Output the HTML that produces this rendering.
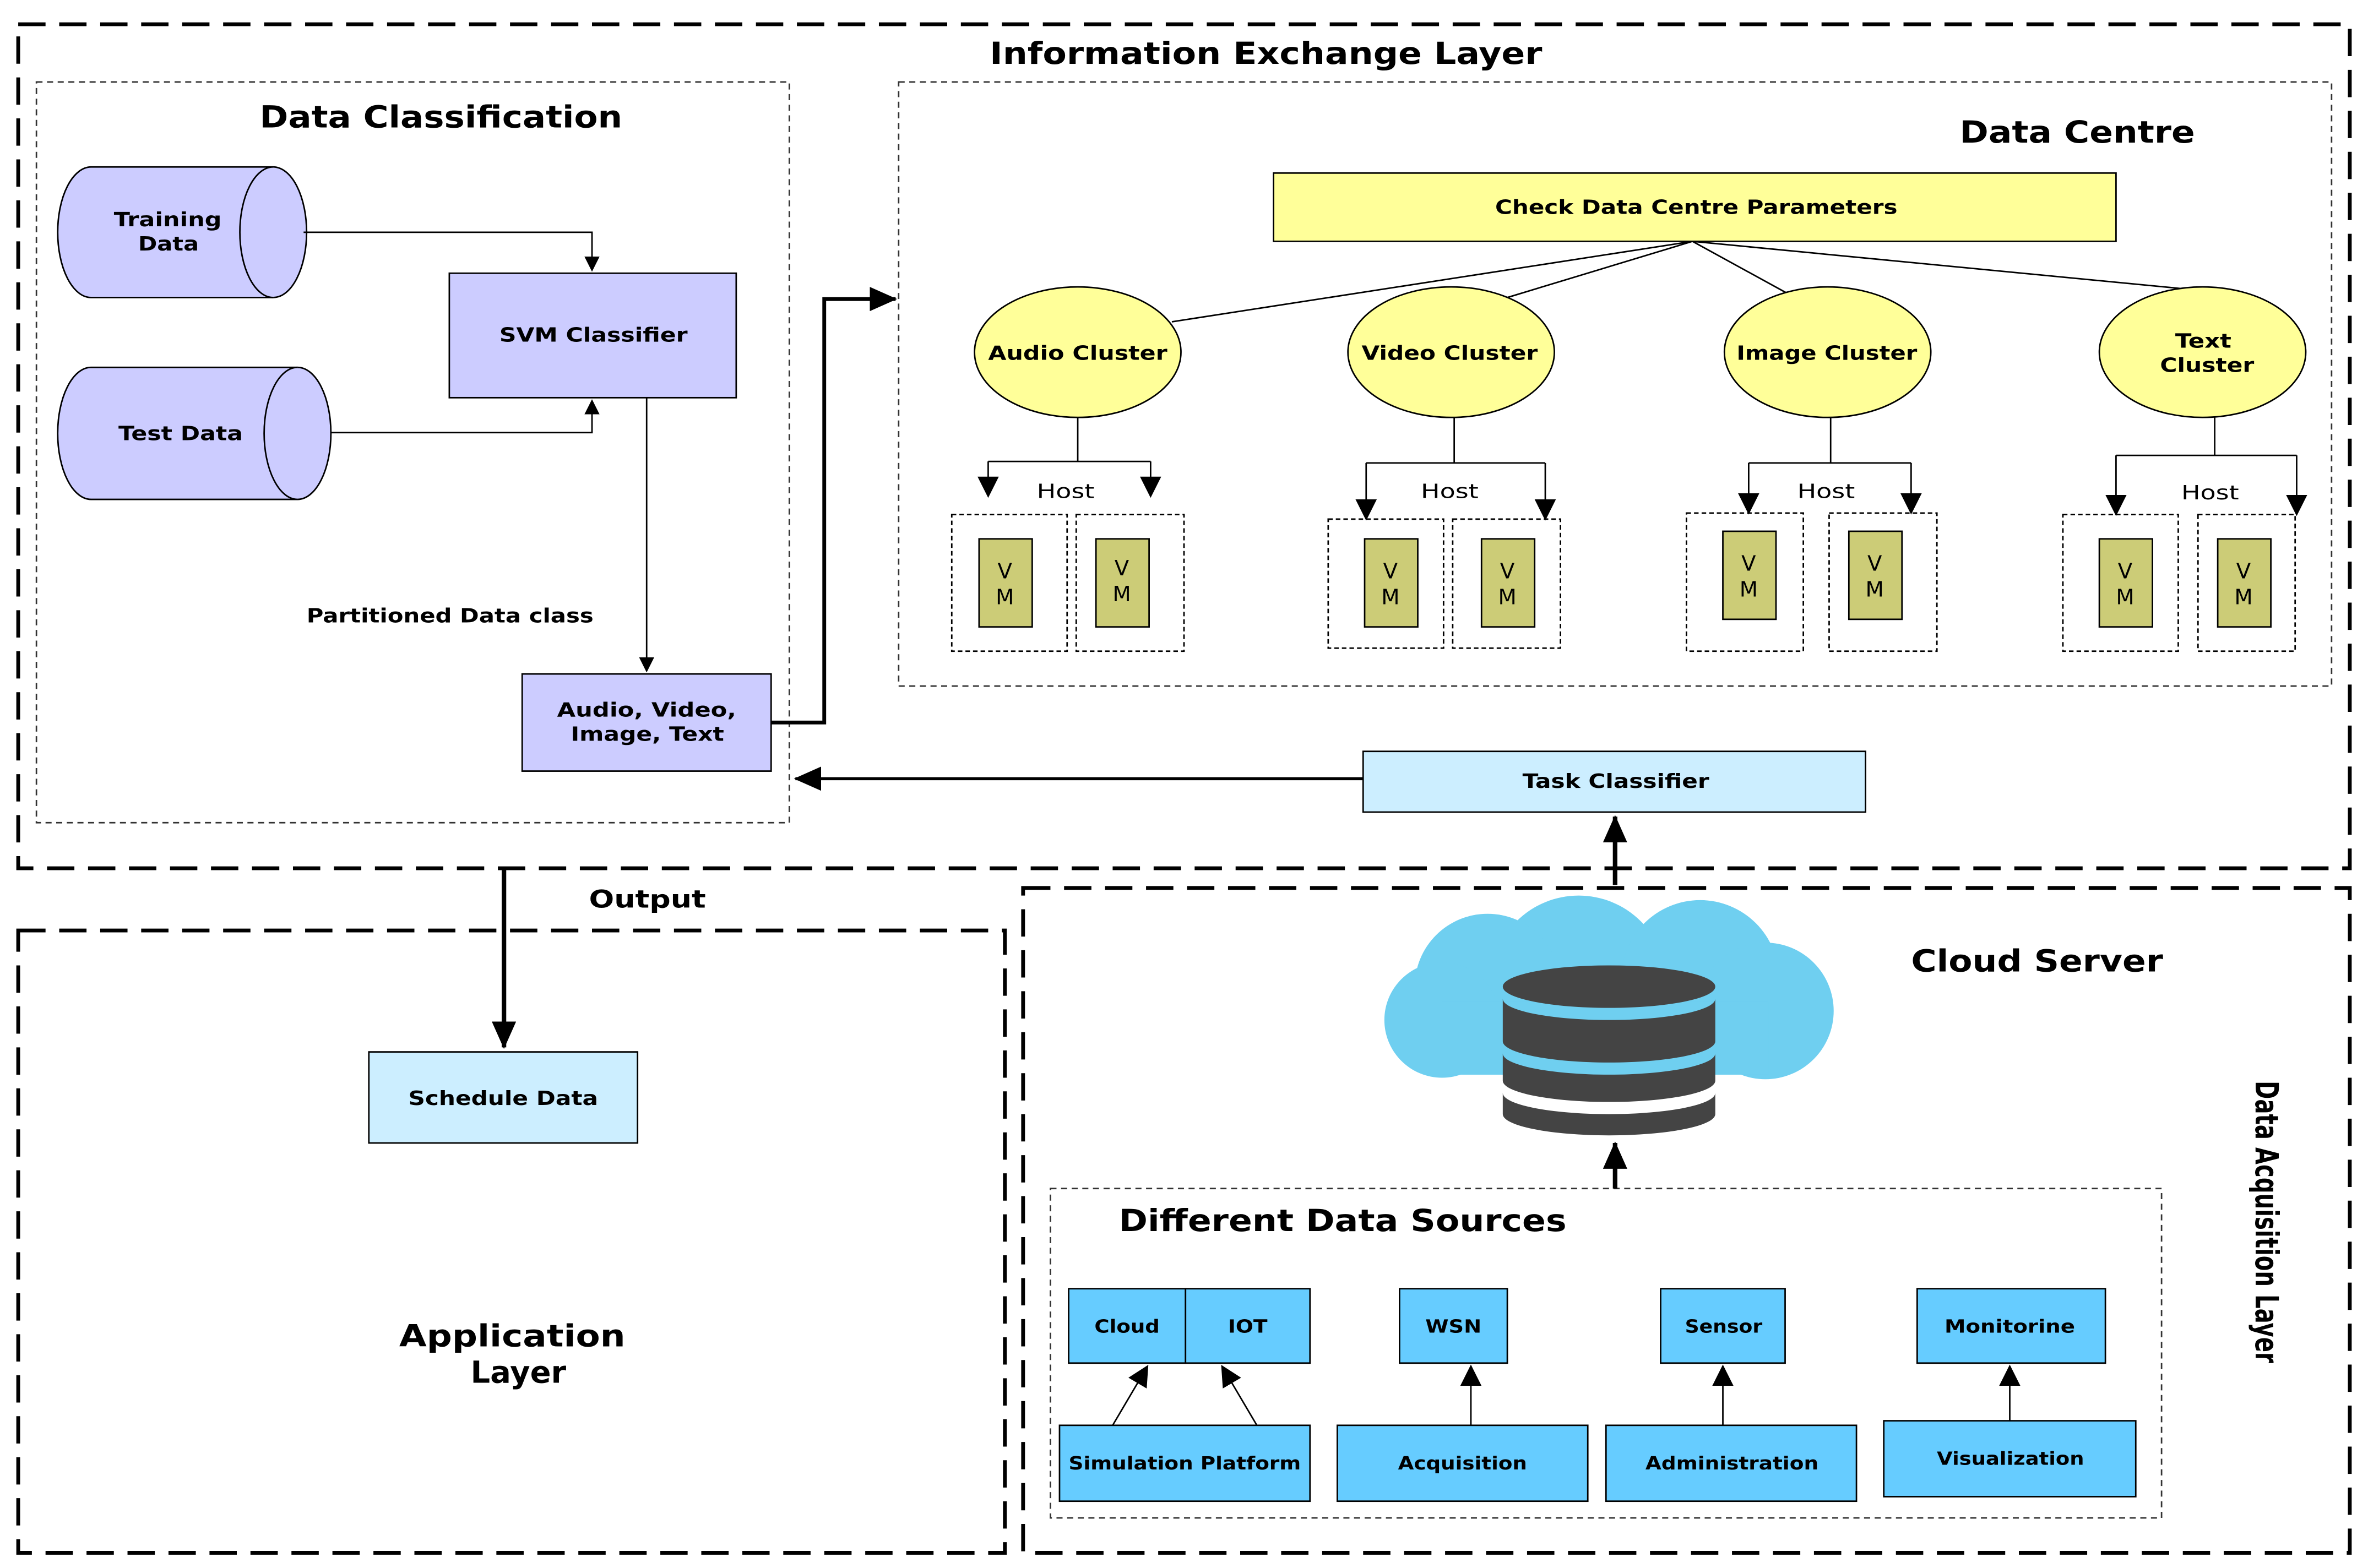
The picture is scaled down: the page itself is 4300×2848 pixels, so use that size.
<!DOCTYPE html>
<html><head><meta charset="utf-8"><style>
html,body{margin:0;padding:0;background:#fff}
svg{display:block}
text{font-family:"DejaVu Sans","Liberation Sans",sans-serif;font-weight:bold;fill:#000}
</style></head><body>
<svg width="4300" height="2848" viewBox="0 0 1560 1033" preserveAspectRatio="none" xmlns="http://www.w3.org/2000/svg">
<defs>
<marker id="a" markerWidth="10" markerHeight="10" refX="9" refY="5" orient="auto" markerUnits="userSpaceOnUse"><path d="M0,0 L10,5 L0,10 z" fill="#000"/></marker>
<marker id="b" markerWidth="18" markerHeight="16" refX="17" refY="8" orient="auto" markerUnits="userSpaceOnUse"><path d="M0,0 L18,8 L0,16 z" fill="#000"/></marker>
<marker id="c" markerWidth="14" markerHeight="14" refX="13" refY="7" orient="auto" markerUnits="userSpaceOnUse"><path d="M0,0 L14,7 L0,14 z" fill="#000"/></marker>
</defs>
<g fill="none" stroke="#000" stroke-width="2.5" stroke-dasharray="18,9">
<rect x="12" y="16" width="1536" height="556"/>
<rect x="12" y="613" width="650" height="410"/>
<rect x="674" y="585" width="874" height="438"/>
</g>
<g fill="none" stroke="#333" stroke-width="1" stroke-dasharray="4,3">
<rect x="24" y="54" width="496" height="488"/>
<rect x="592" y="54" width="944" height="398"/>
<rect x="692" y="783" width="732" height="217"/>
</g>
<text x="652" y="42" font-size="20" textLength="364" lengthAdjust="spacingAndGlyphs">Information Exchange Layer</text>
<text x="171" y="84" font-size="20" textLength="239" lengthAdjust="spacingAndGlyphs">Data Classification</text>
<text x="1291" y="94" font-size="20" textLength="155" lengthAdjust="spacingAndGlyphs">Data Centre</text>

<g fill="#ccccff" stroke="#000" stroke-width="1">
<path d="M60,110 L180,110 A22,43 0 0 1 180,196 L60,196 A22,43 0 0 1 60,110 z"/>
<path d="M180,110 A22,43 0 0 0 180,196"/>
<path d="M60,242 L196,242 A22,43.5 0 0 1 196,329 L60,329 A22,43.5 0 0 1 60,242 z"/>
<path d="M196,242 A22,43.5 0 0 0 196,329"/>
<rect x="296" y="180" width="189" height="82"/>
<rect x="344" y="444" width="164" height="64"/>
</g>
<g font-size="13" lengthAdjust="spacingAndGlyphs">
<text x="75" y="149" textLength="71" lengthAdjust="spacingAndGlyphs">Training</text>
<text x="91" y="165" textLength="40" lengthAdjust="spacingAndGlyphs">Data</text>
<text x="78" y="290" textLength="82" lengthAdjust="spacingAndGlyphs">Test Data</text>
<text x="329" y="225" textLength="124" lengthAdjust="spacingAndGlyphs">SVM Classifier</text>
<text x="367" y="472" textLength="118" lengthAdjust="spacingAndGlyphs">Audio, Video,</text>
<text x="376" y="488" textLength="101" lengthAdjust="spacingAndGlyphs">Image, Text</text>
<text x="202" y="410" textLength="189" lengthAdjust="spacingAndGlyphs">Partitioned Data class</text>
</g>
<g fill="none" stroke="#000" stroke-width="1">
<path d="M200,153 L390,153 L390,178" marker-end="url(#a)"/>
<path d="M218,285 L390,285 L390,264" marker-end="url(#a)"/>
<path d="M426,262 L426,442" marker-end="url(#a)"/>
</g>
<path d="M508,476 L543,476 L543,197 L590,197" fill="none" stroke="#000" stroke-width="2.5" marker-end="url(#b)"/>

<rect x="898" y="495" width="331" height="40" fill="#cceeff" stroke="#000" stroke-width="1"/>
<text x="1003" y="519" font-size="13" textLength="123" lengthAdjust="spacingAndGlyphs">Task Classifier</text>
<path d="M898,513 L524,513" stroke="#000" stroke-width="2" marker-end="url(#b)"/>
<path d="M1064,583 L1064,538" stroke="#000" stroke-width="3" marker-end="url(#b)"/>

<rect x="839" y="114" width="555" height="45" fill="#ffff99" stroke="#000" stroke-width="1"/>
<text x="985" y="141" font-size="13" textLength="265" lengthAdjust="spacingAndGlyphs">Check Data Centre Parameters</text>
<g stroke="#000" stroke-width="1" fill="none">
<path d="M1115,159 L772,212 M1115,159 L993,196 M1115,159 L1177,193 M1115,159 L1436,190"/>
</g>
<g fill="#ffff99" stroke="#000" stroke-width="1">
<ellipse cx="710" cy="232" rx="68" ry="43"/>
<ellipse cx="956" cy="232" rx="68" ry="43"/>
<ellipse cx="1204" cy="232" rx="68" ry="43"/>
<ellipse cx="1451" cy="232" rx="68" ry="43"/>
</g>
<g font-size="13">
<text x="651" y="237" textLength="118" lengthAdjust="spacingAndGlyphs">Audio Cluster</text>
<text x="897" y="237" textLength="116" lengthAdjust="spacingAndGlyphs">Video Cluster</text>
<text x="1144" y="237" textLength="119" lengthAdjust="spacingAndGlyphs">Image Cluster</text>
<text x="1433" y="229" textLength="37" lengthAdjust="spacingAndGlyphs">Text</text>
<text x="1423" y="245" textLength="62" lengthAdjust="spacingAndGlyphs">Cluster</text>
</g>
<g stroke="#000" stroke-width="1" fill="none">
<path d="M710,275 L710,304 M651,304 L758,304"/>
<path d="M651,304 L651,327" marker-end="url(#c)"/><path d="M758,304 L758,327" marker-end="url(#c)"/>
<path d="M958,275 L958,305 M900,305 L1018,305"/>
<path d="M900,305 L900,342" marker-end="url(#c)"/><path d="M1018,305 L1018,342" marker-end="url(#c)"/>
<path d="M1206,275 L1206,305 M1152,305 L1259,305"/>
<path d="M1152,305 L1152,338" marker-end="url(#c)"/><path d="M1259,305 L1259,338" marker-end="url(#c)"/>
<path d="M1459,275 L1459,300 M1394,300 L1513,300"/>
<path d="M1394,300 L1394,339" marker-end="url(#c)"/><path d="M1513,300 L1513,339" marker-end="url(#c)"/>
</g>
<g font-size="13">
<text x="683" y="328" style="font-weight:normal" textLength="38" lengthAdjust="spacingAndGlyphs">Host</text>
<text x="936" y="328" style="font-weight:normal" textLength="38" lengthAdjust="spacingAndGlyphs">Host</text>
<text x="1184" y="328" style="font-weight:normal" textLength="38" lengthAdjust="spacingAndGlyphs">Host</text>
<text x="1437" y="329" style="font-weight:normal" textLength="38" lengthAdjust="spacingAndGlyphs">Host</text>
</g>
<g fill="none" stroke="#000" stroke-width="1" stroke-dasharray="3,2">
<rect x="627" y="339" width="76" height="90"/><rect x="709" y="339" width="71" height="90"/>
<rect x="875" y="342" width="76" height="85"/><rect x="957" y="342" width="71" height="85"/>
<rect x="1111" y="338" width="77" height="91"/><rect x="1205" y="338" width="71" height="91"/>
<rect x="1359" y="339" width="76" height="90"/><rect x="1448" y="339" width="64" height="90"/>
</g>
<g fill="#cccc77" stroke="#000" stroke-width="1">
<rect x="645" y="355" width="35" height="58"/><rect x="722" y="355" width="35" height="58"/>
<rect x="899" y="355" width="35" height="58"/><rect x="976" y="355" width="35" height="58"/>
<rect x="1135" y="350" width="35" height="58"/><rect x="1218" y="350" width="35" height="58"/>
<rect x="1383" y="355" width="35" height="58"/><rect x="1461" y="355" width="35" height="58"/>
</g>
<g font-size="14" text-anchor="middle">
<text x="662" y="381" style="font-weight:normal">V</text><text x="662" y="398" style="font-weight:normal">M</text>
<text x="739" y="379" style="font-weight:normal">V</text><text x="739" y="396" style="font-weight:normal">M</text>
<text x="916" y="381" style="font-weight:normal">V</text><text x="916" y="398" style="font-weight:normal">M</text>
<text x="993" y="381" style="font-weight:normal">V</text><text x="993" y="398" style="font-weight:normal">M</text>
<text x="1152" y="376" style="font-weight:normal">V</text><text x="1152" y="393" style="font-weight:normal">M</text>
<text x="1235" y="376" style="font-weight:normal">V</text><text x="1235" y="393" style="font-weight:normal">M</text>
<text x="1400" y="381" style="font-weight:normal">V</text><text x="1400" y="398" style="font-weight:normal">M</text>
<text x="1478" y="381" style="font-weight:normal">V</text><text x="1478" y="398" style="font-weight:normal">M</text>
</g>

<path d="M332,572 L332,690" stroke="#000" stroke-width="3" marker-end="url(#b)"/>
<text x="388" y="598" font-size="16" textLength="77" lengthAdjust="spacingAndGlyphs">Output</text>
<rect x="243" y="693" width="177" height="60" fill="#cceeff" stroke="#000" stroke-width="1"/>
<text x="269" y="728" font-size="13" textLength="125" lengthAdjust="spacingAndGlyphs">Schedule Data</text>
<text x="263" y="887" font-size="20" textLength="149" lengthAdjust="spacingAndGlyphs">Application</text>
<text x="310" y="911" font-size="20" textLength="63" lengthAdjust="spacingAndGlyphs">Layer</text>

<g fill="#6fcff0">
<circle cx="1040" cy="648" r="58"/>
<circle cx="980" cy="650" r="48"/>
<circle cx="950" cy="672" r="38"/>
<circle cx="1120" cy="645" r="52"/>
<circle cx="1163" cy="666" r="45"/>
<rect x="950" y="660" width="215" height="48"/>
</g>
<g fill="#444">
<ellipse cx="1060" cy="650" rx="70" ry="14"/>
<path d="M990,658 A70,14 0 0 0 1130,658 L1130,686 A70,14 0 0 1 990,686 z"/>
<path d="M990,694 A70,14 0 0 0 1130,694 L1130,712 A70,14 0 0 1 990,712 z"/>
<path d="M990,720 A70,14 0 0 0 1130,720 L1130,734 A70,14 0 0 1 990,734 z"/>
</g>
<text x="1259" y="640" font-size="20" textLength="166" lengthAdjust="spacingAndGlyphs">Cloud Server</text>
<path d="M1064,783 L1064,753" stroke="#000" stroke-width="3" marker-end="url(#b)"/>
<text transform="translate(1486,712) rotate(90)" font-size="21" textLength="186" lengthAdjust="spacingAndGlyphs">Data Acquisition Layer</text>
<text x="737" y="811" font-size="20" textLength="295" lengthAdjust="spacingAndGlyphs">Different Data Sources</text>

<g fill="#66ccff" stroke="#000" stroke-width="1">
<rect x="704" y="849" width="77" height="49"/><rect x="781" y="849" width="82" height="49"/>
<rect x="922" y="849" width="71" height="49"/><rect x="1094" y="849" width="82" height="49"/>
<rect x="1263" y="849" width="124" height="49"/>
<rect x="698" y="939" width="165" height="50"/><rect x="881" y="939" width="165" height="50"/>
<rect x="1058" y="939" width="165" height="50"/><rect x="1241" y="936" width="166" height="50"/>
</g>
<g font-size="12">
<text x="721" y="878" textLength="43" lengthAdjust="spacingAndGlyphs">Cloud</text>
<text x="809" y="878" textLength="26" lengthAdjust="spacingAndGlyphs">IOT</text>
<text x="939" y="878" textLength="37" lengthAdjust="spacingAndGlyphs">WSN</text>
<text x="1110" y="878" textLength="51" lengthAdjust="spacingAndGlyphs">Sensor</text>
<text x="1281" y="878" textLength="86" lengthAdjust="spacingAndGlyphs">Monitorine</text>
<text x="704" y="968" textLength="153" lengthAdjust="spacingAndGlyphs">Simulation Platform</text>
<text x="921" y="968" textLength="85" lengthAdjust="spacingAndGlyphs">Acquisition</text>
<text x="1084" y="968" textLength="114" lengthAdjust="spacingAndGlyphs">Administration</text>
<text x="1276" y="965" textLength="97" lengthAdjust="spacingAndGlyphs">Visualization</text>
</g>
<g stroke="#000" stroke-width="1" fill="none">
<path d="M733,939 L756,900" marker-end="url(#c)"/>
<path d="M828,939 L805,900" marker-end="url(#c)"/>
<path d="M969,939 L969,900" marker-end="url(#c)"/>
<path d="M1135,939 L1135,900" marker-end="url(#c)"/>
<path d="M1324,936 L1324,900" marker-end="url(#c)"/>
</g>
</svg>
</body></html>
